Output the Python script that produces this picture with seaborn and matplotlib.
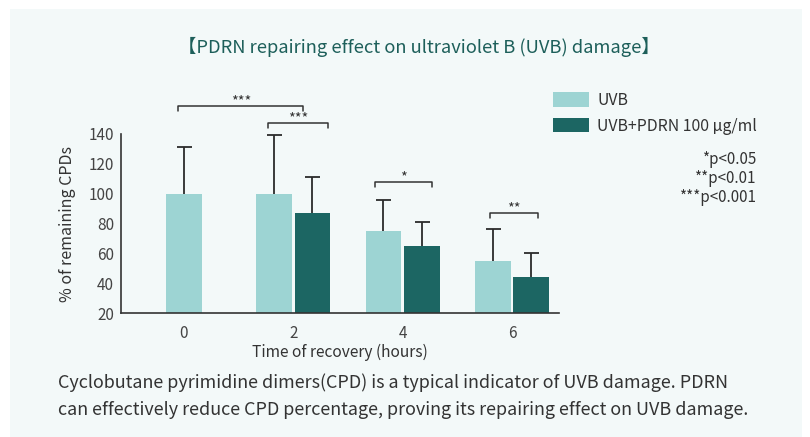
import numpy as np
import pandas as pd
import seaborn as sns
import matplotlib
matplotlib.use("Agg")
import matplotlib.pyplot as plt
from matplotlib.patches import Rectangle, Patch

# ---------------- data ----------------
times = ["0", "2", "4", "6"]
groups = ["UVB", "UVB+PDRN 100 µg/ml"]
uvb_values = [100, 100, 75, 55]
uvb_errors = [31, 39, 21, 21]
pdrn_values = [np.nan, 87, 65, 44]
pdrn_errors = [np.nan, 24, 16, 16]
colors = ["#9dd4d3", "#1c6663"]
yticks = [20, 40, 60, 80, 100, 120, 140]
sig_labels = ["***", "***", "*", "**"]
sig_heights = [159, 147.5, 108, 87]
pvalue_notes = ["*p<0.05", "**p<0.01", "***p<0.001"]
title = "【PDRN repairing effect on ultraviolet B (UVB) damage】"
caption = ["Cyclobutane pyrimidine dimers(CPD) is a typical indicator of UVB damage. PDRN",
           "can effectively reduce CPD percentage, proving its repairing effect on UVB damage."]

df = pd.DataFrame({
    "time": times * 2,
    "group": [groups[0]] * 4 + [groups[1]] * 4,
    "value": uvb_values + pdrn_values,
})
errors = {(groups[0], t): e for t, e in zip(times, uvb_errors)}
errors.update({(groups[1], t): e for t, e in zip(times, pdrn_errors)})

sns.set_style("white")
plt.rcParams["font.family"] = ["Noto Sans CJK SC", "DejaVu Sans"]

W, H = 810, 437
fig = plt.figure(figsize=(W / 100, H / 100), dpi=100, facecolor="white")
fig.patches.append(Rectangle((10 / W, 0), 792 / W, 1 - 9 / H, transform=fig.transFigure,
                             facecolor="#f3f9f9", edgecolor="none", zorder=-10))

ax = fig.add_axes([121 / W, 1 - 313 / H, (559 - 121) / W, (313 - 134) / H])
ax.set_facecolor("none")

sns.barplot(data=df, x="time", y="value", hue="group", hue_order=groups, order=times,
            palette=colors, width=0.7, gap=0.07, errorbar=None, saturation=1,
            linewidth=0, legend=False, ax=ax)

# collect bars, center lone bars, add one-sided error bars
bars = []
for gi, cont in enumerate(ax.containers):
    for p in cont.patches:
        if np.isnan(p.get_height()) or p.get_height() == 0:
            continue
        cx = p.get_x() + p.get_width() / 2
        bars.append((gi, int(round(cx)), p))
counts = {}
for gi, ci, p in bars:
    counts[ci] = counts.get(ci, 0) + 1
for gi, ci, p in bars:
    if counts[ci] == 1:
        p.set_x(ci - p.get_width() / 2)
    cx = p.get_x() + p.get_width() / 2
    err = errors[(groups[gi], times[ci])]
    eb = ax.errorbar([cx], [p.get_height()], yerr=[[0], [err]], fmt="none",
                     ecolor="#2b2b2b", elinewidth=1.3, capsize=5.4, capthick=1.3, zorder=3)
    caps = eb[1]
    if len(caps) == 2:
        caps[0].set_visible(False)

ax.set_ylim(20, 140)
ax.set_xlim(-0.574, 3.43)
ax.set_yticks(yticks)
ax.tick_params(axis="y", direction="in", length=5, width=1.1, color="#333333",
               labelsize=11, labelcolor="#444444", pad=5)
ax.tick_params(axis="x", length=0, labelsize=11, labelcolor="#444444", pad=9)
for s in ["top", "right"]:
    ax.spines[s].set_visible(False)
for s in ["left", "bottom"]:
    ax.spines[s].set_color("#333333")
    ax.spines[s].set_linewidth(1.2)
ax.set_xlabel("Time of recovery (hours)", fontsize=11.2, color="#333333", labelpad=1)
ax.set_ylabel("% of remaining CPDs", fontsize=11.5, color="#333333", labelpad=9)

# significance brackets
spans = [(-0.05, 1.09), (0.77, 1.32), (1.75, 2.27), (2.8, 3.24)]
for (x0, x1), yb, lab in zip(spans, sig_heights, sig_labels):
    ax.plot([x0, x0, x1, x1], [yb - 3.3, yb, yb, yb - 3.3], color="#333333", lw=1.1,
            clip_on=False)
    ax.text((x0 + x1) / 2, yb + 3.0, lab, ha="center", va="center", fontsize=10.5,
            color="#333333", clip_on=False)

# legend
handles = [Patch(facecolor=c, edgecolor="none") for c in colors]
fig.legend(handles, groups, loc="upper left", bbox_to_anchor=(553 / W, 1 - 92 / H),
           frameon=False, fontsize=11.4, handlelength=2.3, handleheight=1.0,
           handletextpad=0.5, labelspacing=0.55, borderpad=0, borderaxespad=0,
           labelcolor="#333333")

for i, note in enumerate(pvalue_notes):
    fig.text(756 / W, 1 - (160 + 18.5 * i) / H, note, ha="right", va="center",
             fontsize=10.9, color="#333333")

fig.text(419 / W, 1 - 47 / H, title, ha="center", va="center", fontsize=13.2,
         color="#1d5f5a")
for i, line in enumerate(caption):
    fig.text(58 / W, 1 - (383 + 27 * i) / H, line, ha="left", va="center",
             fontsize=12.95, color="#333333")

fig.savefig("out.png", dpi=100, facecolor="white")
